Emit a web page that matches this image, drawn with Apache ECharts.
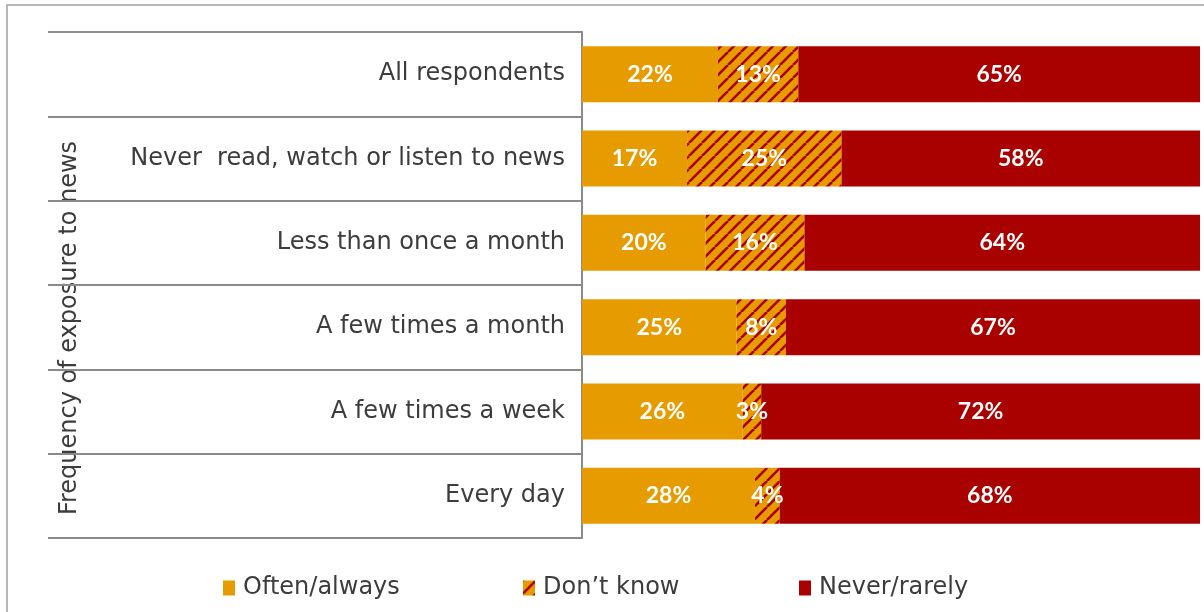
<!DOCTYPE html>
<html>
<head>
<meta charset="utf-8">
<script src="https://cdn.jsdelivr.net/npm/echarts@6/dist/echarts.min.js"></script>
<style>
  html, body { margin: 0; padding: 0; background: #fff; }
  #chart { width: 1204px; height: 612px; }
</style>
</head>
<body>
<div id="chart"></div>
<script>
// Survey answers by frequency of news exposure (percent of respondents)
const categories = [
  'All respondents',
  'Never  read, watch or listen to news',
  'Less than once a month',
  'A few times a month',
  'A few times a week',
  'Every day'
];
const seriesNames = ['Often/always', 'Don\u2019t know', 'Never/rarely'];
const oftenAlways = [22, 17, 20, 25, 26, 28];
const dontKnow = [13, 25, 16, 8, 3, 4];
const neverRarely = [65, 58, 64, 67, 72, 68];
const axisTitle = 'Frequency of exposure to news';

const ORANGE = '#E69C00';
const RED = '#A90000';
const TEXT = '#3c3c3c';
const FONT = '"DejaVu Sans", sans-serif';

// Diagonal orange/red stripe fill for the "Don't know" segments
function stripePattern(size) {
  const c = document.createElement('canvas');
  c.width = size; c.height = size;
  const g = c.getContext('2d');
  g.fillStyle = ORANGE;
  g.fillRect(0, 0, size, size);
  g.strokeStyle = RED;
  g.lineWidth = 2.6;
  for (let k = -1; k <= 1; k++) {
    g.beginPath();
    g.moveTo(k * size, size);
    g.lineTo(k * size + size, 0);
    g.stroke();
  }
  return c;
}
const stripes = { image: stripePattern(13), repeat: 'repeat' };

const chart = echarts.init(document.getElementById('chart'), null, { renderer: 'canvas' });

const labelStyle = {
  show: true,
  position: 'inside',
  color: '#fff',
  fontFamily: 'Lato, "DejaVu Sans", sans-serif',
  fontWeight: 'bold',
  fontSize: 23,
  formatter: p => p.value + '%'
};

function barSeries(name, data, color) {
  return {
    name: name,
    type: 'bar',
    stack: 'total',
    barWidth: 56,
    data: data,
    itemStyle: { color: color },
    label: labelStyle,
    emphasis: { disabled: true }
  };
}

// One legend block per series so each entry sits in its own column
const legendLefts = [218, 518, 794];
const legends = seriesNames.map((name, i) => ({
  left: legendLefts[i],
  top: 571,
  itemWidth: 12,
  itemHeight: 15,
  icon: 'rect',
  selectedMode: false,
  textStyle: { color: TEXT, fontSize: 24, fontFamily: FONT, padding: [0, 0, 0, 3] },
  data: [name]
}));

chart.setOption({
  animation: false,
  textStyle: { fontFamily: FONT },
  grid: { left: 582, right: 4, top: 32, bottom: 74, containLabel: false },
  xAxis: {
    type: 'value',
    min: 0,
    max: 100,
    show: false
  },
  yAxis: {
    type: 'category',
    data: categories,
    inverse: true,
    axisLine: { show: true, lineStyle: { color: '#8a8a8a', width: 2 } },
    axisTick: { show: true, length: 534, lineStyle: { color: '#8a8a8a', width: 2 } },
    axisLabel: {
      margin: 17,
      color: TEXT,
      fontSize: 24,
      fontFamily: FONT
    },
    name: axisTitle,
    nameLocation: 'middle',
    nameRotate: 90,
    nameGap: 500,
    nameTextStyle: { color: TEXT, fontSize: 24, fontFamily: FONT, padding: [0, 86, 0, 0] }
  },
  legend: legends,
  graphic: [
    {
      type: 'polyline',
      shape: { points: [[7, 612], [7, 5], [1204, 5]] },
      style: { stroke: '#a0a0a0', lineWidth: 1.5, fill: null },
      silent: true
    }
  ],
  series: [
    barSeries(seriesNames[0], oftenAlways, ORANGE),
    barSeries(seriesNames[1], dontKnow, stripes),
    barSeries(seriesNames[2], neverRarely, RED)
  ]
});
</script>
</body>
</html>
